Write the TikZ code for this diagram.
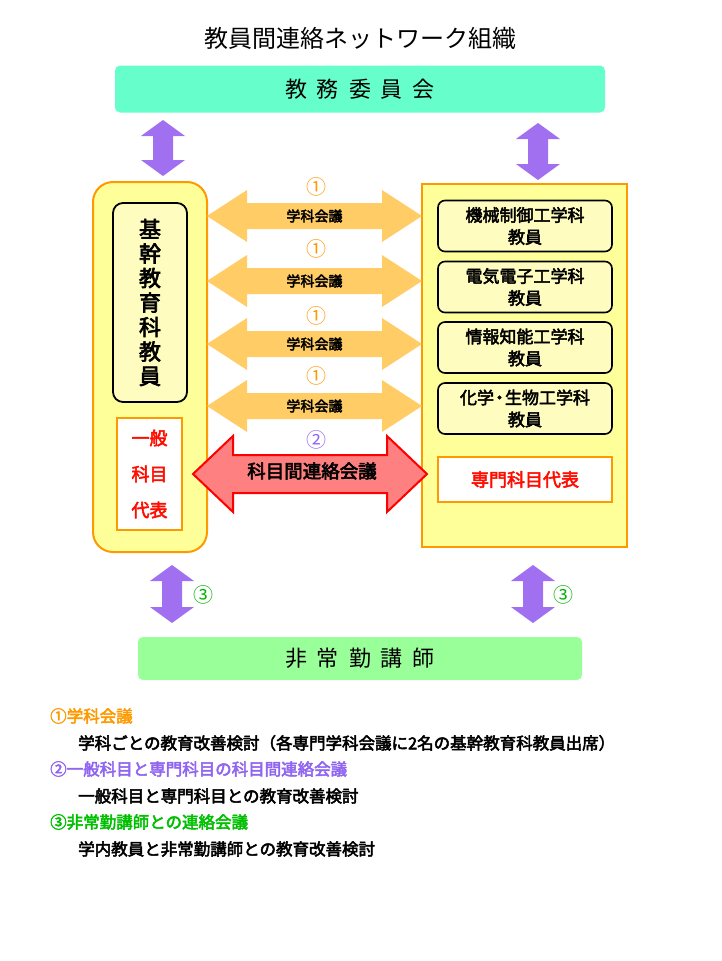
\documentclass[tikz,border=0pt]{standalone}
\usepackage{fontspec}
\setmainfont{Noto Sans CJK JP}
\newfontfamily\jpb{Noto Sans CJK JP}[FakeBold=3]
\definecolor{aquam}{HTML}{66FFCC}
\definecolor{lgreen}{HTML}{99FF99}
\definecolor{purp}{HTML}{A070F0}
\definecolor{orarr}{HTML}{FFCC66}
\definecolor{orln}{HTML}{FF9900}
\definecolor{ylwf}{HTML}{FFFF99}
\begin{document}
\begin{tikzpicture}[x=1pt,y=-1pt,
  ylw/.style={fill=ylwf},
  orgarrow/.style={fill=orarr},
  purparrow/.style={fill=purp,draw=none},
  lbl/.style={font=\jpb\fontsize{14}{15}\selectfont},
  dept/.style={draw=black,line width=1.6pt,rounded corners=7pt,fill=yellow!25,minimum width=174pt,minimum height=51pt,align=center,font=\jpb\fontsize{17}{22}\selectfont,inner sep=0pt},
  circ1/.style={font=\fontsize{20}{20}\selectfont,text=orln},
  circ3/.style={font=\fontsize{20}{20}\selectfont,text=green!70!black}]
\newcommand\mkharrow[6]{% x1 x2 yc shaft head style
  \fill[#6] (#1,#3) -- (#1+40,#3-#5) -- (#1+40,#3-#4) -- (#2-40,#3-#4) -- (#2-40,#3-#5) -- (#2,#3) -- (#2-40,#3+#5) -- (#2-40,#3+#4) -- (#1+40,#3+#4) -- (#1+40,#3+#5) -- cycle;}
\newcommand\mkvarrow[3]{% x y1 y2
  \fill[purparrow] (#1,#2) -- (#1+22,#2+16) -- (#1+10,#2+16) -- (#1+10,#3-16) -- (#1+22,#3-16) -- (#1,#3) -- (#1-22,#3-16) -- (#1-10,#3-16) -- (#1-10,#2+16) -- (#1-22,#2+16) -- cycle;}
\useasboundingbox[fill=white] (0,0) rectangle (721,961);
\node[font=\fontsize{24}{26}\selectfont] (title) at (360,38) {教員間連絡ネットワーク組織};
\node[fill=aquam,rounded corners=5pt,minimum width=490pt,minimum height=47pt] (top) at (360,89) {};
\node[font=\fontsize{22}{24}\selectfont] (toptext) at (360,89) {教\hspace{10pt}務\hspace{10pt}委\hspace{10pt}員\hspace{10pt}会};
\mkvarrow{163}{120}{176}
\mkvarrow{538}{123}{180}
% left
\draw[ylw,draw=orln,line width=2pt,rounded corners=20pt] (93,182) rectangle (207,552);
\node[draw,line width=1.8pt,rounded corners=10pt,fill=yellow!25,minimum width=74pt,minimum height=199pt,align=center,inner sep=0pt,font=\jpb\fontsize{22}{24.5}\selectfont] (kikan) at (150,302.5) {基\\幹\\教\\育\\科\\教\\員};
\node[draw=orln,line width=2pt,fill=white,minimum width=65pt,minimum height=112pt,align=center,inner sep=0pt,text=red!90!orange,font=\jpb\fontsize{18}{36}\selectfont] (ippan) at (149.5,474) {一般\\科目\\代表};
% right
\draw[ylw,draw=orln,line width=2pt] (422,184) rectangle (627,547);
\node[dept] (d1) at (525,226) {機械制御工学科\\教員};
\node[dept] (d2) at (525,287) {電気電子工学科\\教員};
\node[dept] (d3) at (525,347.5) {情報知能工学科\\教員};
\node[dept] (d4) at (525,408.5) {化学\kern-3pt・\kern-3pt生物工学科\\教員};
\node[draw=orln,line width=2pt,fill=white,minimum width=174pt,minimum height=45pt,inner sep=0pt,text=red!90!orange,font=\jpb\fontsize{18}{20}\selectfont] (senmon) at (525,479.5) {専門科目代表};
% orange arrows
\foreach \yc/\yn/\n in {216/187/a,281/249/b,344/316/c,406/376/d}{
  \mkharrow{207}{422}{\yc}{13}{26}{orgarrow}
  \node[lbl] (g\n) at (314.5,\yc) {学科会議};
  \node[circ1] (c\n) at (316,\yn) {①};
}
% red arrow
\mkharrow{193}{427}{474}{19}{38}{fill=red!50!white,draw=red,line width=2pt}
\node[font=\jpb\fontsize{18.5}{20}\selectfont] (kamoku) at (312,471) {科目間連絡会議};
\node[font=\fontsize{20}{20}\selectfont,text=purp!90!blue] (c2) at (316,440) {②};
% bottom
\mkvarrow{172}{565}{623}
\mkvarrow{533}{565}{623}
\node[circ3] (c3a) at (203,595) {③};
\node[circ3] (c3b) at (563,595) {③};
\node[fill=lgreen,rounded corners=5pt,minimum width=444pt,minimum height=43pt] (bottom) at (360,658.5) {};
\node[font=\fontsize{22}{24}\selectfont] (bottext) at (360,658.5) {非\hspace{10pt}常\hspace{10pt}勤\hspace{10pt}講\hspace{10pt}師};
% legend
\begin{scope}[every node/.style={anchor=west,font=\jpb\fontsize{16.5}{18}\selectfont,inner sep=0pt}]
\node[text=orln] (l1) at (50,716) {①学科会議};
\node (l2) at (78,743) {学科ごとの教育改善検討（各専門学科会議に2名の基幹教育科教員出席）};
\node[text=purp!90!blue] (l3) at (50,769) {②一般科目と専門科目の科目間連絡会議};
\node (l4) at (78,796) {一般科目と専門科目との教育改善検討};
\node[text=green!75!black] (l5) at (50,822) {③非常勤講師との連絡会議};
\node (l6) at (78,849) {学内教員と非常勤講師との教育改善検討};
\end{scope}
\end{tikzpicture}
\end{document}
